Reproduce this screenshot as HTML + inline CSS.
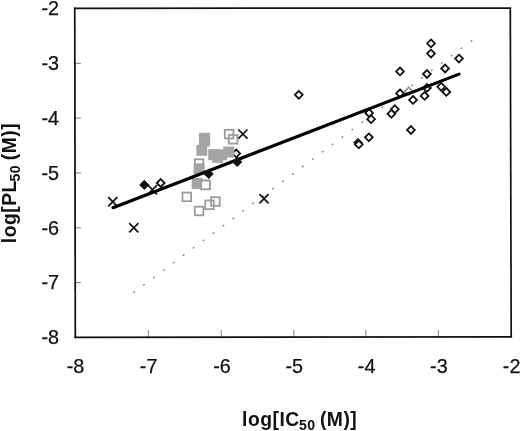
<!DOCTYPE html><html><head><meta charset="utf-8"><title>chart</title>
<style>html,body{margin:0;padding:0;background:#fff}svg{display:block}text{font-family:"Liberation Sans",Arial,sans-serif;fill:#111}</style></head><body>
<svg width="520" height="431" viewBox="0 0 520 431">
<rect width="520" height="431" fill="#fff"/>
<line x1="75" y1="63.39" x2="80.9" y2="63.39" stroke="#8c8c8c" stroke-width="1.1"/>
<line x1="148.40" y1="337" x2="148.40" y2="329.9" stroke="#8c8c8c" stroke-width="1.1"/>
<line x1="75" y1="118.18" x2="80.9" y2="118.18" stroke="#8c8c8c" stroke-width="1.1"/>
<line x1="221.30" y1="337" x2="221.30" y2="329.9" stroke="#8c8c8c" stroke-width="1.1"/>
<line x1="75" y1="172.97" x2="80.9" y2="172.97" stroke="#8c8c8c" stroke-width="1.1"/>
<line x1="293.85" y1="337" x2="293.85" y2="329.9" stroke="#8c8c8c" stroke-width="1.1"/>
<line x1="75" y1="227.76" x2="80.9" y2="227.76" stroke="#8c8c8c" stroke-width="1.1"/>
<line x1="365.85" y1="337" x2="365.85" y2="329.9" stroke="#8c8c8c" stroke-width="1.1"/>
<line x1="75" y1="282.55" x2="80.9" y2="282.55" stroke="#8c8c8c" stroke-width="1.1"/>
<line x1="438.40" y1="337" x2="438.40" y2="329.9" stroke="#8c8c8c" stroke-width="1.1"/>
<line x1="133.30" y1="292.77" x2="472.26" y2="40.23" stroke="#858585" stroke-width="1.4" stroke-dasharray="1.9 10.476"/>
<path d="M408.70 87.30L412.60 91.20L408.70 95.10L404.80 91.20Z" fill="#fff" stroke="#8a8a8a" stroke-width="1.6"/>
<path d="M358.00 138.40L362.40 142.80L358.00 147.20L353.60 142.80Z" fill="#111" stroke="#111" stroke-width="1"/>
<path d="M160.70 179.10L164.60 183.00L160.70 186.90L156.80 183.00Z" fill="#fff" stroke="#111" stroke-width="1.8"/>
<path d="M236.20 149.50L240.10 153.40L236.20 157.30L232.30 153.40Z" fill="#fff" stroke="#111" stroke-width="1.8"/>
<path d="M298.80 90.90L302.70 94.80L298.80 98.70L294.90 94.80Z" fill="#fff" stroke="#111" stroke-width="1.8"/>
<path d="M431.00 39.50L434.90 43.40L431.00 47.30L427.10 43.40Z" fill="#fff" stroke="#111" stroke-width="1.8"/>
<path d="M431.00 49.70L434.90 53.60L431.00 57.50L427.10 53.60Z" fill="#fff" stroke="#111" stroke-width="1.8"/>
<path d="M459.00 54.70L462.90 58.60L459.00 62.50L455.10 58.60Z" fill="#fff" stroke="#111" stroke-width="1.8"/>
<path d="M445.10 64.60L449.00 68.50L445.10 72.40L441.20 68.50Z" fill="#fff" stroke="#111" stroke-width="1.8"/>
<path d="M426.90 70.10L430.80 74.00L426.90 77.90L423.00 74.00Z" fill="#fff" stroke="#111" stroke-width="1.8"/>
<path d="M400.00 67.50L403.90 71.40L400.00 75.30L396.10 71.40Z" fill="#fff" stroke="#111" stroke-width="1.8"/>
<path d="M441.20 82.90L445.10 86.80L441.20 90.70L437.30 86.80Z" fill="#fff" stroke="#111" stroke-width="1.8"/>
<path d="M400.00 89.50L403.90 93.40L400.00 97.30L396.10 93.40Z" fill="#fff" stroke="#111" stroke-width="1.8"/>
<path d="M413.00 96.00L416.90 99.90L413.00 103.80L409.10 99.90Z" fill="#fff" stroke="#111" stroke-width="1.8"/>
<path d="M369.10 109.10L373.00 113.00L369.10 116.90L365.20 113.00Z" fill="#fff" stroke="#111" stroke-width="1.8"/>
<path d="M371.10 115.30L375.00 119.20L371.10 123.10L367.20 119.20Z" fill="#fff" stroke="#111" stroke-width="1.8"/>
<path d="M394.80 105.30L398.70 109.20L394.80 113.10L390.90 109.20Z" fill="#fff" stroke="#111" stroke-width="1.8"/>
<path d="M391.40 109.90L395.30 113.80L391.40 117.70L387.50 113.80Z" fill="#fff" stroke="#111" stroke-width="1.8"/>
<path d="M410.90 126.10L414.80 130.00L410.90 133.90L407.00 130.00Z" fill="#fff" stroke="#111" stroke-width="1.8"/>
<path d="M368.90 133.40L372.80 137.30L368.90 141.20L365.00 137.30Z" fill="#fff" stroke="#111" stroke-width="1.8"/>
<path d="M426.90 84.00L430.80 87.90L426.90 91.80L423.00 87.90Z" fill="#fff" stroke="#111" stroke-width="1.8"/>
<path d="M424.60 92.00L428.50 95.90L424.60 99.80L420.70 95.90Z" fill="#fff" stroke="#111" stroke-width="1.8"/>
<path d="M446.30 88.00L450.20 91.90L446.30 95.80L442.40 91.90Z" fill="#fff" stroke="#111" stroke-width="1.8"/>
<path d="M358.80 140.50L362.70 144.40L358.80 148.30L354.90 144.40Z" fill="#fff" stroke="#111" stroke-width="1.8"/>
<rect x="224.80" y="129.80" width="8.6" height="8.6" fill="none" stroke="#9c9c9c" stroke-width="1.8"/>
<rect x="228.80" y="135.00" width="8.6" height="8.6" fill="none" stroke="#9c9c9c" stroke-width="1.8"/>
<rect x="194.80" y="159.30" width="8.6" height="8.6" fill="none" stroke="#9c9c9c" stroke-width="1.8"/>
<rect x="201.20" y="180.60" width="8.6" height="8.6" fill="none" stroke="#9c9c9c" stroke-width="1.8"/>
<rect x="182.50" y="192.60" width="8.6" height="8.6" fill="none" stroke="#9c9c9c" stroke-width="1.8"/>
<rect x="211.10" y="197.20" width="8.6" height="8.6" fill="none" stroke="#9c9c9c" stroke-width="1.8"/>
<rect x="205.20" y="200.50" width="8.6" height="8.6" fill="none" stroke="#9c9c9c" stroke-width="1.8"/>
<rect x="194.80" y="206.70" width="8.6" height="8.6" fill="none" stroke="#9c9c9c" stroke-width="1.8"/>
<rect x="199.10" y="132.80" width="11" height="11" fill="#a5a5a5"/>
<rect x="199.10" y="135.50" width="11" height="11" fill="#a5a5a5"/>
<rect x="196.30" y="144.80" width="11" height="11" fill="#a5a5a5"/>
<rect x="208.20" y="149.10" width="11" height="11" fill="#a5a5a5"/>
<rect x="212.20" y="151.80" width="11" height="11" fill="#a5a5a5"/>
<rect x="216.00" y="149.30" width="11" height="11" fill="#a5a5a5"/>
<rect x="223.20" y="146.50" width="11" height="11" fill="#a5a5a5"/>
<rect x="193.60" y="163.20" width="11" height="11" fill="#a5a5a5"/>
<rect x="191.70" y="177.90" width="11" height="11" fill="#a5a5a5"/>
<rect x="201.20" y="180.60" width="8.6" height="8.6" fill="#fff" stroke="#9c9c9c" stroke-width="1.8"/>
<path d="M108.20 197.20L117.40 206.40M108.20 206.40L117.40 197.20" stroke="#111" stroke-width="1.7" fill="none"/>
<path d="M129.20 223.20L138.40 232.40M129.20 232.40L138.40 223.20" stroke="#111" stroke-width="1.7" fill="none"/>
<path d="M147.80 185.20L157.00 194.40M147.80 194.40L157.00 185.20" stroke="#111" stroke-width="1.7" fill="none"/>
<path d="M238.30 129.50L247.50 138.70M238.30 138.70L247.50 129.50" stroke="#111" stroke-width="1.7" fill="none"/>
<path d="M259.40 194.10L268.60 203.30M259.40 203.30L268.60 194.10" stroke="#111" stroke-width="1.7" fill="none"/>
<line x1="113" y1="207.7" x2="459.1" y2="74.1" stroke="#000" stroke-width="3.15" stroke-linecap="round"/>
<path d="M144.30 180.30L148.90 184.90L144.30 189.50L139.70 184.90Z" fill="#111" stroke="#111" stroke-width="1"/>
<path d="M237.20 157.30L241.80 161.90L237.20 166.50L232.60 161.90Z" fill="#111" stroke="#111" stroke-width="1"/>
<path d="M208.70 169.30L213.30 173.90L208.70 178.50L204.10 173.90Z" fill="#111" stroke="#111" stroke-width="1"/>
<path d="M75.3 338.29999999999995L74.75 7.500000000000001" stroke="#111" stroke-width="1.75" fill="none"/>
<path d="M74.39999999999999 337.4L512.1 336.8" stroke="#111" stroke-width="1.7" fill="none"/>
<path d="M73.85 8.3L511.2 8.1" stroke="#111" stroke-width="1.7" fill="none"/>
<path d="M510.3 8.1L511.2 336.8" stroke="#111" stroke-width="1.7" fill="none"/>
<text x="59.1" y="14.70" font-size="19.8" text-anchor="end" stroke="#111" stroke-width="0.25">-2</text>
<text x="75.50" y="373.3" font-size="19.8" text-anchor="middle" stroke="#111" stroke-width="0.25">-8</text>
<text x="59.1" y="69.89" font-size="19.8" text-anchor="end" stroke="#111" stroke-width="0.25">-3</text>
<text x="148.60" y="373.3" font-size="19.8" text-anchor="middle" stroke="#111" stroke-width="0.25">-7</text>
<text x="59.1" y="124.68" font-size="19.8" text-anchor="end" stroke="#111" stroke-width="0.25">-4</text>
<text x="222.00" y="373.3" font-size="19.8" text-anchor="middle" stroke="#111" stroke-width="0.25">-6</text>
<text x="59.1" y="180.07" font-size="19.8" text-anchor="end" stroke="#111" stroke-width="0.25">-5</text>
<text x="294.20" y="373.3" font-size="19.8" text-anchor="middle" stroke="#111" stroke-width="0.25">-5</text>
<text x="59.1" y="234.56" font-size="19.8" text-anchor="end" stroke="#111" stroke-width="0.25">-6</text>
<text x="366.60" y="373.3" font-size="19.8" text-anchor="middle" stroke="#111" stroke-width="0.25">-4</text>
<text x="59.1" y="289.05" font-size="19.8" text-anchor="end" stroke="#111" stroke-width="0.25">-7</text>
<text x="438.90" y="373.3" font-size="19.8" text-anchor="middle" stroke="#111" stroke-width="0.25">-3</text>
<text x="59.1" y="343.84" font-size="19.8" text-anchor="end" stroke="#111" stroke-width="0.25">-8</text>
<text x="511.60" y="373.3" font-size="19.8" text-anchor="middle" stroke="#111" stroke-width="0.25">-2</text>
<text x="242.1" y="425.6" font-size="19.3" letter-spacing="0.5" font-weight="bold">log[IC<tspan font-size="14" dy="4.3" dx="-0.8">50</tspan><tspan dy="-4.3" dx="-1.4"> (M)]</tspan></text>
<text transform="translate(15.5 243.2) rotate(-90)" font-size="19.3" letter-spacing="0.5" font-weight="bold">log[PL<tspan font-size="14" dy="4.3" dx="-1.2">50</tspan><tspan dy="-4.3" dx="-1.2"> (M)]</tspan></text>
</svg></body></html>
